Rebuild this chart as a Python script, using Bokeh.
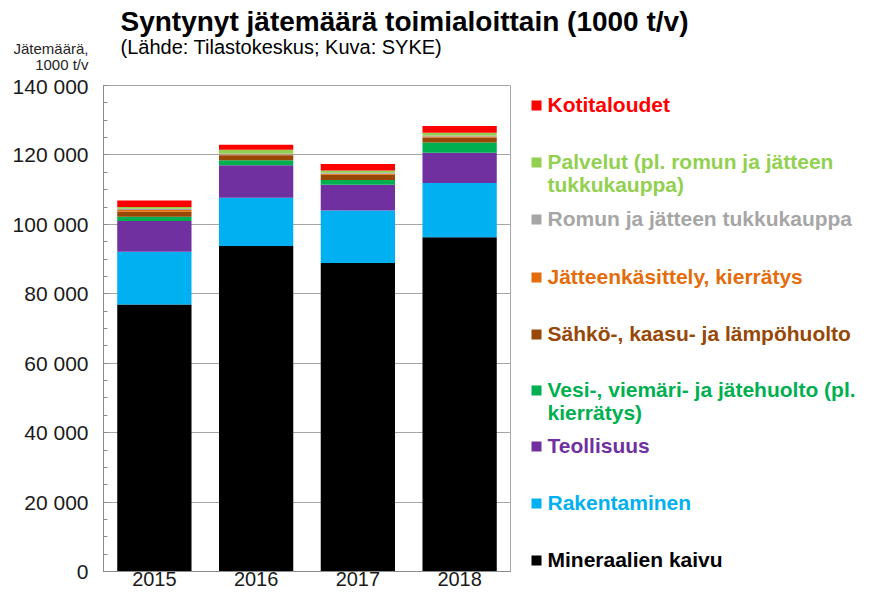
from bokeh.plotting import figure
from bokeh.models import ColumnDataSource, Range1d, FactorRange, Label, FixedTicker
from bokeh.layouts import column, row
from bokeh.embed import file_html
from bokeh.resources import INLINE

# ---------------- data ----------------
years = ["2015", "2016", "2017", "2018"]

mineraalien_kaivu = [76900, 93800, 88900, 96300]
rakentaminen = [15200, 13900, 15100, 15600]
teollisuus = [8900, 9300, 7400, 8700]
vesi_viemari = [1200, 1500, 1400, 3000]
sahko_kaasu = [1400, 1400, 1500, 1400]
jatteenkasittely = [500, 200, 300, 300]
romun_tukkukauppa = [400, 300, 300, 300]
palvelut = [500, 1100, 600, 800]
kotitaloudet = [1900, 1400, 1900, 1900]

series_keys = ["mineraalien", "rakentaminen", "teollisuus", "vesi", "sahko",
               "jatteenkasittely", "romun", "palvelut", "kotitaloudet"]
series_labels = [
    ["Mineraalien kaivu"],
    ["Rakentaminen"],
    ["Teollisuus"],
    ["Vesi-, viemäri- ja jätehuolto (pl.", "kierrätys)"],
    ["Sähkö-, kaasu- ja lämpöhuolto"],
    ["Jätteenkäsittely, kierrätys"],
    ["Romun ja jätteen tukkukauppa"],
    ["Palvelut (pl. romun ja jätteen", "tukkukauppa)"],
    ["Kotitaloudet"],
]
series_colors = ["#000000", "#00B0F0", "#7030A0", "#00B050", "#974706",
                 "#E46C0A", "#A6A6A6", "#92D050", "#FF0000"]

y_ticks = [0, 20000, 40000, 60000, 80000, 100000, 120000, 140000]
y_tick_labels = ["0", "20 000", "40 000", "60 000", "80 000", "100 000", "120 000", "140 000"]

title_text = "Syntynyt jätemäärä toimialoittain (1000 t/v)"
subtitle_text = "(Lähde: Tilastokeskus; Kuva: SYKE)"
ylabel_lines = ["Jätemäärä,", "1000 t/v"]

# ---------------- layout (pixels) ----------------
FONT = "Liberation Sans"
W, H = 859, 596
HEADER_H = 74
F_LEFT, F_RIGHT, F_TOP, F_BOTTOM = 103, 510, 85, 571
MAIN_W = F_RIGHT + 2
BODY_H = H - HEADER_H
Y_MAX = 140000

# ---------------- header panel (pixel coordinates) ----------------
header = figure(width=W, height=HEADER_H, x_range=Range1d(0, W),
                y_range=Range1d(HEADER_H, 0), output_backend="svg",
                toolbar_location=None, x_axis_location=None, y_axis_location=None,
                min_border=0)
header.grid.visible = False
header.outline_line_color = None
header.add_layout(Label(x=120, y=21, text=title_text, text_font=FONT,
                        text_font_size="28px", text_font_style="bold",
                        text_color="#000000", text_baseline="middle"))
header.add_layout(Label(x=120, y=46, text=subtitle_text, text_font=FONT,
                        text_font_size="20px", text_color="#000000",
                        text_baseline="middle"))
for ln, cy in zip(ylabel_lines, [48, 64]):
    header.add_layout(Label(x=88, y=cy, text=ln, text_font=FONT,
                            text_font_size="15px", text_color="#262626",
                            text_align="right", text_baseline="middle"))

# ---------------- main chart ----------------
data = {"years": years,
        "mineraalien": mineraalien_kaivu, "rakentaminen": rakentaminen,
        "teollisuus": teollisuus, "vesi": vesi_viemari, "sahko": sahko_kaasu,
        "jatteenkasittely": jatteenkasittely, "romun": romun_tukkukauppa,
        "palvelut": palvelut, "kotitaloudet": kotitaloudet}
source = ColumnDataSource(data)

p = figure(x_range=FactorRange(*years), y_range=Range1d(0, Y_MAX),
           width=MAIN_W, height=BODY_H, output_backend="svg", toolbar_location=None,
           min_border_left=F_LEFT, min_border_right=MAIN_W - F_RIGHT,
           min_border_top=F_TOP - HEADER_H, min_border_bottom=H - F_BOTTOM)
p.vbar_stack(series_keys, x="years", width=0.73, color=series_colors,
             line_color=None, source=source)

p.yaxis.ticker = FixedTicker(ticks=y_ticks,
                             minor_ticks=list(range(0, Y_MAX + 1, 5000)))
p.yaxis.major_label_overrides = {t: l for t, l in zip(y_ticks, y_tick_labels)}
p.yaxis.major_label_text_font = FONT
p.yaxis.major_label_text_font_size = "21px"
p.yaxis.major_label_text_color = "#1a1a1a"
p.yaxis.major_label_standoff = 15
p.yaxis.major_tick_in = 5
p.yaxis.major_tick_out = 0
p.yaxis.minor_tick_in = 4
p.yaxis.minor_tick_out = 0
p.yaxis.axis_line_color = "#8C8C8C"
p.yaxis.major_tick_line_color = "#8C8C8C"
p.yaxis.minor_tick_line_color = "#8C8C8C"

p.xaxis.major_label_text_font = FONT
p.xaxis.major_label_text_font_size = "20px"
p.xaxis.major_label_text_color = "#1a1a1a"
p.xaxis.major_label_standoff = 0
p.xaxis.major_tick_in = 0
p.xaxis.major_tick_out = 0
p.xaxis.axis_line_color = "#8C8C8C"

p.xgrid.visible = False
p.ygrid.grid_line_color = "#A6A6A6"
p.ygrid.grid_line_width = 1
p.outline_line_color = "#A6A6A6"

# ---------------- legend panel (pixel coordinates, frame aligned with chart) ----------------
leg = figure(width=W - MAIN_W, height=BODY_H, x_range=Range1d(MAIN_W, W),
             y_range=Range1d(F_BOTTOM, F_TOP), output_backend="svg",
             toolbar_location=None, x_axis_location=None, y_axis_location=None,
             min_border_left=0, min_border_right=0,
             min_border_top=F_TOP - HEADER_H, min_border_bottom=H - F_BOTTOM)
leg.grid.visible = False
leg.outline_line_color = None

legend_centers = [559, 502, 445, 389, 333, 276, 218, 161, 104]  # bottom series first
line_gap = 23
sq_x, sq_y = [], []
for lines, col, cy in zip(series_labels, series_colors, legend_centers):
    sq_x.append(536)
    sq_y.append(cy + 1)
    for j, ln in enumerate(lines):
        leg.add_layout(Label(x=547, y=cy + j * line_gap, text=ln,
                             text_font=FONT, text_font_size="21px",
                             text_font_style="bold", text_color=col,
                             text_baseline="middle"))
leg.scatter(x=sq_x, y=sq_y, marker="square", size=10, color=series_colors,
            line_color=None)

layout = column(header, row(p, leg))
open("out.html", "w").write(file_html(layout, INLINE))
